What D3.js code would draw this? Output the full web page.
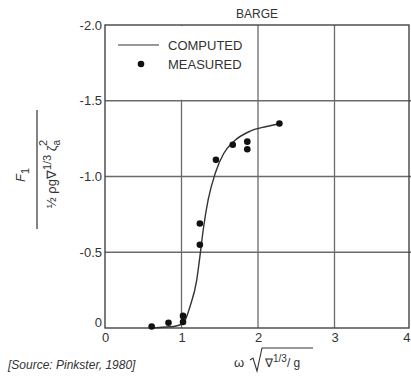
<!DOCTYPE html>
<html>
<head>
<meta charset="utf-8">
<script src="https://cdn.jsdelivr.net/npm/d3@7"></script>
<style>
  body { margin: 0; background: #fff; }
  text { font-family: "Liberation Sans", Arial, sans-serif; fill: #333; }
</style>
</head>
<body>
<div id="chart"></div>
<script>
// measured points (omega*sqrt(V^1/3/g), F1 coefficient)
const measuredX = [0.61, 0.83, 1.02, 1.02, 1.24, 1.24, 1.45, 1.67, 1.86, 1.86, 2.28];
const measuredY = [-0.01, -0.035, -0.04, -0.08, -0.55, -0.69, -1.11, -1.21, -1.23, -1.18, -1.35];

// computed curve
const computedX = [0.6, 0.75, 0.9, 1.02, 1.11, 1.2, 1.24, 1.29, 1.35, 1.44, 1.55, 1.68, 1.9, 2.11, 2.29];
const computedY = [0, -0.005, -0.01, -0.03, -0.14, -0.32, -0.47, -0.67, -0.85, -1.02, -1.15, -1.23, -1.3, -1.33, -1.35];

const xTicks = [0, 1, 2, 3, 4];
const yTicks = [0, -0.5, -1.0, -1.5, -2.0];
const yTickLabels = ["0", "-0.5", "-1.0", "-1.5", "-2.0"];

const width = 411, height = 378;
const margin = { top: 25, right: 1, bottom: 50, left: 105 };

const svg = d3.select("#chart").append("svg")
  .attr("width", width)
  .attr("height", height);

const x = d3.scaleLinear().domain([0, 4]).range([margin.left, width - margin.right + 1]);
const y = d3.scaleLinear().domain([0, -2]).range([height - margin.bottom, margin.top]);

const gridColor = "#6a6a6a";

// grid lines
svg.append("g")
  .selectAll("line.vg")
  .data(xTicks.slice(1, 4))
  .enter().append("line")
  .attr("x1", d => x(d)).attr("x2", d => x(d))
  .attr("y1", y(0)).attr("y2", y(-2))
  .attr("stroke", gridColor).attr("stroke-width", 1.3);

svg.append("g")
  .selectAll("line.hg")
  .data(yTicks.slice(1, 4))
  .enter().append("line")
  .attr("x1", x(0)).attr("x2", x(4))
  .attr("y1", d => y(d)).attr("y2", d => y(d))
  .attr("stroke", gridColor).attr("stroke-width", 1.3);

// legend box covers the upper left cell
svg.append("rect")
  .attr("x", x(0) + 1).attr("y", y(-2) + 1)
  .attr("width", x(1) - x(0) + 2).attr("height", y(-1.5) - y(-2) - 2)
  .attr("fill", "#fff");

// frame
svg.append("rect")
  .attr("x", x(0)).attr("y", y(-2))
  .attr("width", 409 - x(0)).attr("height", y(0) - y(-2))
  .attr("fill", "none").attr("stroke", "#444").attr("stroke-width", 1.4);

// axes labels
const xAxis = d3.axisBottom(x).tickValues(xTicks).tickSize(0).tickPadding(5)
  .tickFormat(d3.format("d"));
const gx = svg.append("g")
  .attr("transform", "translate(0," + y(0) + ")")
  .call(xAxis);
gx.select(".domain").remove();
gx.selectAll("text").style("font-size", "13px").attr("fill", "#333");
// last label sits at the right edge of the page
gx.selectAll(".tick").filter(d => d === 4).select("text")
  .attr("text-anchor", "end").attr("dx", -1);

const yAxis = d3.axisLeft(y).tickValues(yTicks).tickSize(0).tickPadding(3)
  .tickFormat((d, i) => yTickLabels[i]);
const gy = svg.append("g")
  .attr("transform", "translate(" + x(0) + ",0)")
  .call(yAxis);
gy.select(".domain").remove();
gy.selectAll("text").style("font-size", "13px").attr("fill", "#333");
gy.selectAll(".tick").filter(d => d === 0).select("text").attr("dy", "-0.1em");

// computed line
const computed = computedX.map((d, i) => ({ x: d, y: computedY[i] }));
const line = d3.line()
  .x(d => x(d.x))
  .y(d => y(d.y))
  .curve(d3.curveMonotoneX);

svg.append("path")
  .datum(computed)
  .attr("d", line)
  .attr("fill", "none")
  .attr("stroke", "#333")
  .attr("stroke-width", 1.4);

// measured dots
const measured = measuredX.map((d, i) => ({ x: d, y: measuredY[i] }));
svg.selectAll(".dot")
  .data(measured)
  .enter().append("circle")
  .attr("class", "dot")
  .attr("cx", d => x(d.x))
  .attr("cy", d => y(d.y))
  .attr("r", 3.3)
  .attr("fill", "#111");

// title
svg.append("text")
  .attr("x", 257).attr("y", 18)
  .attr("text-anchor", "middle")
  .style("font-size", "12px")
  .text("BARGE");

// legend
svg.append("line")
  .attr("x1", 118).attr("x2", 159)
  .attr("y1", 45).attr("y2", 45)
  .attr("stroke", "#333").attr("stroke-width", 1.2);
svg.append("text")
  .attr("x", 168).attr("y", 50)
  .style("font-size", "13px")
  .text("COMPUTED");
svg.append("circle")
  .attr("cx", 141).attr("cy", 64).attr("r", 3.3).attr("fill", "#111");
svg.append("text")
  .attr("x", 168).attr("y", 69)
  .style("font-size", "13px")
  .text("MEASURED");

// y label: fraction, rotated
const yl = svg.append("g").attr("transform", "translate(37,169) rotate(-90)");
yl.append("line")
  .attr("x1", -60).attr("x2", 59)
  .attr("y1", 0).attr("y2", 0)
  .attr("stroke", "#333").attr("stroke-width", 1.2);
const num = yl.append("text")
  .attr("x", -6).attr("y", -12)
  .attr("text-anchor", "middle")
  .style("font-size", "13px");
num.append("tspan").style("font-style", "italic").text("F");
num.append("tspan").attr("dy", 4).style("font-size", "11px").text("1");

const den = yl.append("text")
  .attr("x", -5).attr("y", 19)
  .attr("text-anchor", "middle")
  .style("font-size", "13px");
den.append("tspan").text("½ ρg∇");
den.append("tspan").attr("dy", -5).style("font-size", "11px").text("1/3");
den.append("tspan").attr("dy", 5).text(" ζ");
den.append("tspan").attr("dy", 4).style("font-size", "10px").text("a");
den.append("tspan").attr("dy", -13).attr("dx", -6).style("font-size", "11px").text("2");

// x label: omega * sqrt(V^1/3 / g)
svg.append("text")
  .attr("x", 234).attr("y", 367)
  .style("font-size", "13px")
  .text("ω");
svg.append("path")
  .attr("d", "M250,360 L253,358 L257,371 L262,348 L313,348")
  .attr("fill", "none").attr("stroke", "#333").attr("stroke-width", 1.1);
const xl = svg.append("text")
  .attr("x", 265).attr("y", 367)
  .style("font-size", "12px");
xl.append("tspan").text("∇");
xl.append("tspan").attr("dy", -5).style("font-size", "10px").text("1/3");
xl.append("tspan").attr("dy", 5).text("/ g");

// source
svg.append("text")
  .attr("x", 8).attr("y", 369)
  .style("font-size", "12px")
  .style("font-style", "italic")
  .text("[Source: Pinkster, 1980]");
</script>
</body>
</html>
